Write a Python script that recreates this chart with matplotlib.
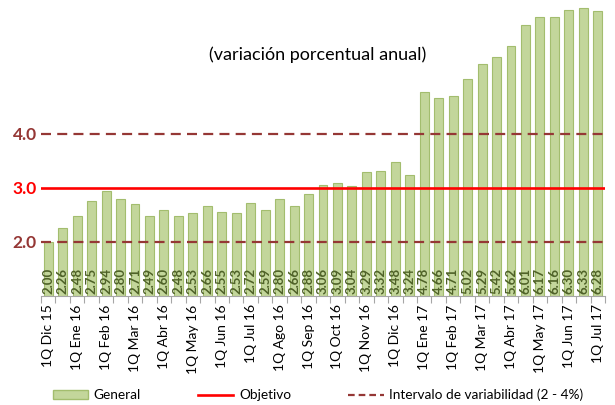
import matplotlib.pyplot as plt
from matplotlib.lines import Line2D
from matplotlib.patches import Patch

plt.rcParams['font.family'] = ['Lato', 'DejaVu Sans']

# ── DATA ─────────────────────────────────────────────────────
months = ['Dic 15', 'Ene 16', 'Feb 16', 'Mar 16', 'Abr 16', 'May 16', 'Jun 16',
          'Jul 16', 'Ago 16', 'Sep 16', 'Oct 16', 'Nov 16', 'Dic 16', 'Ene 17',
          'Feb 17', 'Mar 17', 'Abr 17', 'May 17', 'Jun 17', 'Jul 17']
general = [2.00, 2.26, 2.48, 2.75, 2.94, 2.80, 2.71, 2.49, 2.60, 2.48,
           2.53, 2.66, 2.55, 2.53, 2.72, 2.59, 2.80, 2.66, 2.88, 3.06,
           3.09, 3.04, 3.29, 3.32, 3.48, 3.24, 4.78, 4.66, 4.71, 5.02,
           5.29, 5.42, 5.62, 6.01, 6.17, 6.16, 6.30, 6.33, 6.28]
objetivo = 3.0
intervalo = [2.0, 4.0]

BAR_FACE = '#c3d69b'
BAR_EDGE = '#a3bd6e'
DARK_RED = '#953735'
LABEL_GREEN = '#4f6228'

x = list(range(len(general)))

fig = plt.figure(figsize=(6.15, 4.05), dpi=100)
ax = fig.add_axes([41 / 615, (405 - 296) / 405, (605 - 41) / 615, 296 / 405])

ax.bar(x, [v - 1.0 for v in general], bottom=1.0, width=0.62,
       color=BAR_FACE, edgecolor=BAR_EDGE, linewidth=0.8, zorder=2)

for xi, v in zip(x, general):
    ax.text(xi, 1.03, f"{v:.2f}", rotation=90, ha='center', va='bottom',
            fontsize=9.5, fontweight='bold', color=LABEL_GREEN, zorder=4)

ax.axhline(objetivo, color='#ff0000', lw=1.9, zorder=3)
for lvl in intervalo:
    ax.axhline(lvl, color=DARK_RED, lw=1.6, ls=(0, (4.5, 2.8)), zorder=3)

ax.set_xlim(-0.5, len(general) - 0.5)
ax.set_ylim(1.0, 6.48)

# category labels every other bar (1Q of each month)
ax.set_xticks(x[::2])
ax.set_xticklabels([f"1Q {m}" for m in months], rotation=90, fontsize=10)
ax.tick_params(axis='x', which='major', length=0, pad=6)
ax.set_xticks([i - 0.5 for i in range(len(general) + 1)], minor=True)
ax.tick_params(axis='x', which='minor', length=5, color='#a6a6a6', width=0.8)

ax.set_yticks([2.0, 3.0, 4.0])
ax.set_yticklabels(['2.0', '3.0', '4.0'], fontsize=12.5, fontweight='bold')
for lbl, c in zip(ax.get_yticklabels(), [DARK_RED, '#ff0000', DARK_RED]):
    lbl.set_color(c)
ax.tick_params(axis='y', length=0, pad=3)

for s in ['top', 'right', 'left']:
    ax.spines[s].set_visible(False)
ax.spines['bottom'].set_color('#a6a6a6')
ax.spines['bottom'].set_linewidth(0.8)

fig.text(318 / 615, 1 - 55 / 405, '(variación porcentual anual)',
         ha='center', va='center', fontsize=13)

handles = [Patch(facecolor=BAR_FACE, edgecolor=BAR_EDGE),
           Line2D([0], [0], color='#ff0000', lw=1.9),
           Line2D([0], [0], color=DARK_RED, lw=1.6, ls=(0, (3, 1.8)))]
fig.legend(handles, ['General', 'Objetivo', 'Intervalo de variabilidad (2 - 4%)'],
           loc='center', bbox_to_anchor=(318 / 615, 1 - 395 / 405), ncol=3,
           frameon=False, fontsize=9.8, handlelength=2.6, columnspacing=4.2,
           handletextpad=0.4)

fig.savefig('out.png', dpi=100)
